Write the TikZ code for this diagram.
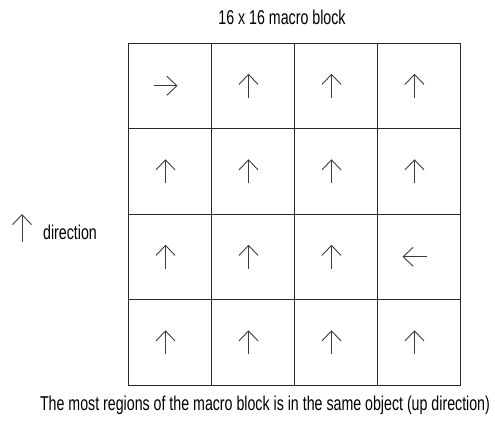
\documentclass[tikz,border=0pt]{standalone}
\usepackage{fontspec}
\setmainfont{Liberation Sans}[FakeStretch=0.71]
\usepackage{tikz}
\usetikzlibrary{calc, positioning, arrows.meta}
\usepackage{xcolor}
\definecolor{gridline}{RGB}{40, 40, 40}
\definecolor{arrowgray}{RGB}{60, 60, 60}

\begin{document}
\begin{tikzpicture}[x=1pt, y=1pt,
    cellbox/.style={draw=gridline, line width=0.9pt, minimum width=83pt,
                    minimum height=85.5pt, inner sep=0pt, outer sep=0pt},
    dirarrow/.style={arrowgray, line width=0.9pt,
                     -{Straight Barb[length=10pt, width=19pt]}},
    label/.style={font=\fontsize{20}{23}\selectfont, inner sep=0pt}]
  \useasboundingbox (0,0) rectangle (495,421);

  % --- Title ---
  \node[label] (title) at (282,404) {16 x 16 macro block};

  % --- Macro block: 4 x 4 cells, each with its direction ---
  \foreach \row/\dirs in {0/{0,90,90,90}, 1/{90,90,90,90},
                          2/{90,90,90,180}, 3/{90,90,90,90}} {
    \foreach \ang [count=\col from 0] in \dirs {
      \node[cellbox] (c-\row-\col) at ({128+83*(\col+0.5)}, {378-85.5*(\row+0.5)}) {};
      \draw[dirarrow] ([xshift=-4pt]c-\row-\col.center) ++(\ang+180:12pt) -- ++(\ang:24pt);
    }
  }

  % --- Legend ---
  \coordinate (legend) at (22,193);
  \draw[dirarrow] (legend) ++(0,-14pt) -- ++(0,28pt);
  \node[label, anchor=west] (legtext) at (43,189) {direction};

  % --- Caption ---
  \node[label] (caption) at (265,16)
    {The most regions of the macro block is in the same object (up direction)};
\end{tikzpicture}
\end{document}
